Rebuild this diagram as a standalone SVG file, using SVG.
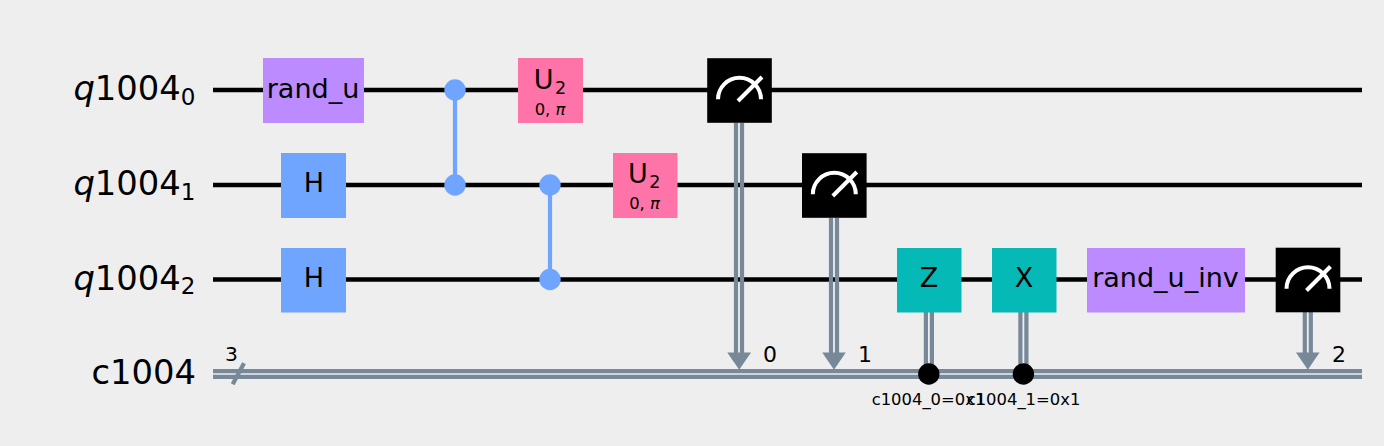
<svg xmlns="http://www.w3.org/2000/svg" width="1384" height="446" viewBox="0 0 1384 446">
<style>
text{font-family:"DejaVu Sans",sans-serif;fill:#000}
.reg{font-size:33.8px;text-anchor:end}
.sub{font-size:23px}
.it{font-style:italic}
.g{font-size:27px;text-anchor:middle}
.s{font-size:16.4px;text-anchor:middle}
.n{font-size:22px}
.n3{font-size:20.3px;text-anchor:middle}
.sub2{font-size:17.5px}
.w{stroke:#000;stroke-width:4.4;fill:none}
.c{stroke:#778899;stroke-width:4.2;fill:none}
.cz{stroke:#6fa4ff;stroke-width:4.2;fill:none}
.purple{fill:#bb8bff}.blue{fill:#6fa4ff}.pink{fill:#ff74a8}.teal{fill:#05bab6}.black{fill:#000}
.dial{stroke:#fff;stroke-width:4;fill:none}
</style>
<defs>
<g id="meter">
<rect x="-32.3" y="-32.3" width="64.6" height="64.6" class="black"/>
<path class="dial" d="M-21.5 8.8A21.5 21.5 0 0 1 21.5 8.8"/>
<path class="dial" d="M-1.5 10.5L22.5 -13.5"/>
</g>
</defs>
<rect width="1384" height="446" fill="#eeeeee"/>
<g id="connectors">
<path class="w" d="M213 90H1362M213 185H1362M213 279.5H1362"/>
<path class="c" d="M213 371.2H1362M213 376.8H1362"/>
<path class="c" d="M232.7 384.3L244 363.3"/>
<path class="cz" d="M455 90V185M550 185V279.5"/>
<circle cx="455" cy="90" r="10.7" class="blue"/>
<circle cx="455" cy="185" r="10.7" class="blue"/>
<circle cx="550" cy="185" r="10.7" class="blue"/>
<circle cx="550" cy="279.5" r="10.7" class="blue"/>
<path class="c" d="M736 123V356M742 123V356"/>
<path fill="#778899" d="M727.3 352.5H751L739.2 369.7Z"/>
<path class="c" d="M831 218V356M837 218V356"/>
<path fill="#778899" d="M822.2 352.5H845.8L834 369.7Z"/>
<path class="c" d="M1304.8 312V356M1310.8 312V356"/>
<path fill="#778899" d="M1296 352.5H1319.6L1307.8 369.7Z"/>
<path class="c" d="M925.9 312V374M931.9 312V374"/>
<path class="c" d="M1020.4 312V374M1026.4 312V374"/>
<circle cx="928.8" cy="374" r="10.7" fill="#000"/>
<circle cx="1023.4" cy="374" r="10.7" fill="#000"/>
</g>
<g id="reg-q0"><text class="reg" x="195.5" y="100"><tspan class="it">q</tspan>1004<tspan class="sub" dy="4.5">0</tspan></text></g>
<g id="reg-q1"><text class="reg" x="195.5" y="195"><tspan class="it">q</tspan>1004<tspan class="sub" dy="4.5">1</tspan></text></g>
<g id="reg-q2"><text class="reg" x="195.5" y="289.5"><tspan class="it">q</tspan>1004<tspan class="sub" dy="4.5">2</tspan></text></g>
<g id="reg-c"><text class="reg" x="196" y="384">c1004</text><text class="n3" x="231.5" y="361">3</text></g>
<g id="rand_u"><rect class="purple" x="263" y="58" width="101" height="65"/><text class="g" x="313" y="98.3">rand_u</text></g>
<g id="h1"><rect class="blue" x="281" y="153" width="65" height="65"/><text class="g" x="314" y="192">H</text></g>
<g id="h2"><rect class="blue" x="281" y="248" width="65" height="64.5"/><text class="g" x="314" y="287">H</text></g>
<g id="u2-0"><rect class="pink" x="518" y="58" width="65" height="65"/><text class="g" x="550" y="89">U<tspan class="sub2" dx="1.5" dy="4.5">2</tspan></text><text class="s" x="550" y="114.5">0, <tspan class="it">π</tspan></text></g>
<g id="u2-1"><rect class="pink" x="613" y="153" width="64.5" height="65"/><text class="g" x="644.3" y="183">U<tspan class="sub2" dx="1.5" dy="4.5">2</tspan></text><text class="s" x="644.5" y="209">0, <tspan class="it">π</tspan></text></g>
<g id="m0"><use href="#meter" x="739.5" y="90.5"/></g>
<g id="m1"><use href="#meter" x="834.3" y="185.5"/></g>
<g id="z"><rect class="teal" x="897" y="248" width="64.5" height="64.5"/><text class="g" x="929" y="287.3">Z</text></g>
<g id="x"><rect class="teal" x="992" y="248" width="64.5" height="64.5"/><text class="g" x="1024" y="287.3">X</text></g>
<g id="rand_u_inv"><rect class="purple" x="1087" y="248" width="158" height="64.5"/><text class="g" x="1165.5" y="287">rand_u_inv</text></g>
<g id="m2"><use href="#meter" x="1308" y="280"/></g>
<g id="labels">
<text class="n" x="763" y="361.5">0</text>
<text class="n" x="858" y="361.5">1</text>
<text class="n" x="1332" y="361.5">2</text>
<text class="s" x="928.5" y="405">c1004_0=0x1</text>
<text class="s" x="1023.5" y="405">c1004_1=0x1</text>
</g>
</svg>
